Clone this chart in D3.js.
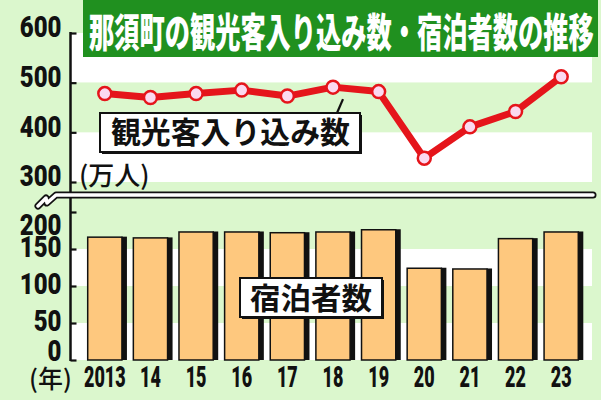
<!DOCTYPE html>
<html><head><meta charset="utf-8">
<script src="https://cdn.jsdelivr.net/npm/d3@7"></script>
<style>
html,body{margin:0;padding:0;background:#dbf7cd;}
svg{display:block;}
</style></head>
<body>
<svg id="c" width="601" height="400"></svg>
<script>
const years = ["2013","14","15","16","17","18","19","20","21","22","23"];
const visitors = [478, 470, 478, 485, 473, 491, 482, 348, 411, 442, 512];
const guests = [166, 165, 173, 173, 172, 173, 176, 124, 123, 164, 173];
const topTicks = [300, 400, 500, 600];
const bottomTicks = [0, 50, 100, 150, 200];
const title = "那須町の観光客入り込み数・宿泊者数の推移";
const lineLabel = "観光客入り込み数";
const barLabel = "宿泊者数";
const unitLabel = "(万人)";
const yearLabel = "(年)";

const svg = d3.select("#c");
const W = 601, H = 400;
const bg = "#dbf7cd", red = "#e5151b", orange = "#fec87e", green = "#20901f";
const numFont = "Roboto, 'DejaVu Sans', sans-serif";
const jpFont = "'Noto Sans CJK JP', sans-serif";

svg.append("rect").attr("width", W).attr("height", H).attr("fill", bg);

const axisX = 70.5, plotRight = 592;
const x = d3.scaleBand().domain(years).range([82, 584]).paddingInner(0.25).paddingOuter(0.125);
const yTop = d3.scaleLinear().domain([300, 600]).range([182, 33]);
const yBot = d3.scaleLinear().domain([0, 200]).range([360, 212]);

// alternating bands
const topBands = [[500, 600, "#ffffff"], [400, 500, bg], [300, 400, "#ffffff"]];
svg.append("g").selectAll("rect").data(topBands).join("rect")
  .attr("x", axisX).attr("width", plotRight - axisX)
  .attr("y", d => yTop(d[1])).attr("height", d => yTop(d[0]) - yTop(d[1]))
  .attr("fill", d => d[2]);
const botBands = [[150, 200, bg], [100, 150, "#ffffff"], [50, 100, bg], [0, 50, "#ffffff"]];
svg.append("g").selectAll("rect").data(botBands).join("rect")
  .attr("x", axisX).attr("width", plotRight - axisX)
  .attr("y", d => yBot(d[1])).attr("height", d => yBot(d[0]) - yBot(d[1]))
  .attr("fill", d => d[2]);

// title
svg.append("rect").attr("x", 83).attr("y", 0).attr("width", 515).attr("height", 57).attr("fill", green);
svg.append("text").attr("transform", "translate(89,46.5) scale(1.01,1.58)")
  .attr("font-family", jpFont).attr("font-weight", 900).attr("font-size", 25)
  .attr("fill", "#fff")
  .text(title);

// axes
function styleAxis(g, labelPos) {
  g.select(".domain").remove();
  g.selectAll(".tick line").attr("stroke", "#111").attr("stroke-width", 2.2);
  g.selectAll(".tick text")
    .attr("x", null).attr("dy", null).attr("text-anchor", "end")
    .attr("font-family", numFont).attr("font-weight", 900).attr("font-size", 30)
    .attr("fill", "#111")
    .attr("transform", d => `translate(-9,${labelPos(d)}) scale(0.8,1)`);
}
const gTop = svg.append("g").attr("transform", `translate(${axisX},0)`)
  .call(d3.axisLeft(yTop).tickValues(topTicks).tickSizeInner(-6).tickSizeOuter(0).tickPadding(0));
styleAxis(gTop, d => 3.7);
const gBot = svg.append("g").attr("transform", `translate(${axisX},0)`)
  .call(d3.axisLeft(yBot).tickValues(bottomTicks).tickSizeInner(-6).tickSizeOuter(0).tickPadding(0));
styleAxis(gBot, d => {
  const y = yBot(d);
  const c = Math.max(224, Math.min(350, y - 3));
  return c - y + 10.7;
});
svg.append("line").attr("x1", axisX).attr("x2", axisX).attr("y1", yTop(600) - 1).attr("y2", yBot(0) + 1)
  .attr("stroke", "#111").attr("stroke-width", 2.5);

// break mark
const brk = "M38,206 L46,198 L47,203 L56,195 L593,195";
svg.append("path").attr("d", brk).attr("fill", "none").attr("stroke", "#111").attr("stroke-width", 7)
  .attr("stroke-linecap", "round").attr("stroke-linejoin", "round");
svg.append("path").attr("d", brk).attr("fill", "none").attr("stroke", "#fff").attr("stroke-width", 3.5)
  .attr("stroke-linecap", "round").attr("stroke-linejoin", "round");

// unit label
svg.append("text").attr("x", 79).attr("y", 185)
  .attr("font-family", jpFont).attr("font-weight", 500).attr("font-size", 26).attr("fill", "#111")
  .text(unitLabel);

// bars
const bw = x.bandwidth();
const bars = svg.append("g").selectAll("g").data(years).join("g");
bars.append("rect").attr("x", (d, i) => x(d) + bw - 0.5).attr("width", 5.5)
  .attr("y", (d, i) => yBot(guests[i]) - 0.5).attr("height", (d, i) => yBot(0) - yBot(guests[i]) + 0.5)
  .attr("fill", "#111");
bars.append("rect").attr("x", d => x(d)).attr("width", bw)
  .attr("y", (d, i) => yBot(guests[i])).attr("height", (d, i) => yBot(0) - yBot(guests[i]))
  .attr("fill", orange).attr("stroke", "#111").attr("stroke-width", 1.5);

// x axis labels
const gx = svg.append("g").attr("transform", `translate(0,${yBot(0)})`)
  .call(d3.axisBottom(x).tickSize(0).tickPadding(0));
gx.select(".domain").remove();
gx.selectAll(".tick text").attr("y", null).attr("dy", null)
  .attr("font-family", numFont).attr("font-weight", 900).attr("font-size", 30).attr("fill", "#111")
  .attr("transform", "translate(0,27) scale(0.6,1)");
svg.append("text").attr("x", 29).attr("y", 388)
  .attr("font-family", jpFont).attr("font-weight", 500).attr("font-size", 25).attr("fill", "#111")
  .text(yearLabel);

// line
const cx = d => x(d) + bw / 2;
svg.append("path").datum(years)
  .attr("d", d3.line().x(cx).y((d, i) => yTop(visitors[i])))
  .attr("fill", "none").attr("stroke", red).attr("stroke-width", 7).attr("stroke-linejoin", "round");
svg.append("g").selectAll("circle").data(years).join("circle")
  .attr("cx", cx).attr("cy", (d, i) => yTop(visitors[i])).attr("r", 6.5)
  .attr("fill", "#fbd9f0").attr("stroke", red).attr("stroke-width", 2.5);

// labels with boxes
function boxLabel(bx, by, bwid, bh, tx, ty, tl, txt) {
  svg.append("rect").attr("x", bx + 2).attr("y", by + 2).attr("width", bwid).attr("height", bh).attr("fill", "#111");
  svg.append("rect").attr("x", bx).attr("y", by).attr("width", bwid).attr("height", bh)
    .attr("fill", "#fff").attr("stroke", "#111").attr("stroke-width", 2);
  svg.append("text").attr("x", tx).attr("y", ty)
    .attr("font-family", jpFont).attr("font-weight", 700).attr("font-size", 30).attr("fill", "#111")
    .attr("textLength", tl).attr("lengthAdjust", "spacingAndGlyphs").text(txt);
}
// pointer to 2018 point
const px = cx("18"), py = yTop(visitors[5]);
svg.append("path").attr("d", `M${px + 10},${py + 12} L${px + 4},113`)
  .attr("stroke", "#111").attr("stroke-width", 2.2).attr("fill", "none");
boxLabel(100, 113, 260, 39, 111, 143, 239, lineLabel);
boxLabel(240, 278, 142, 39, 250, 309, 122, barLabel);
</script>
</body></html>
